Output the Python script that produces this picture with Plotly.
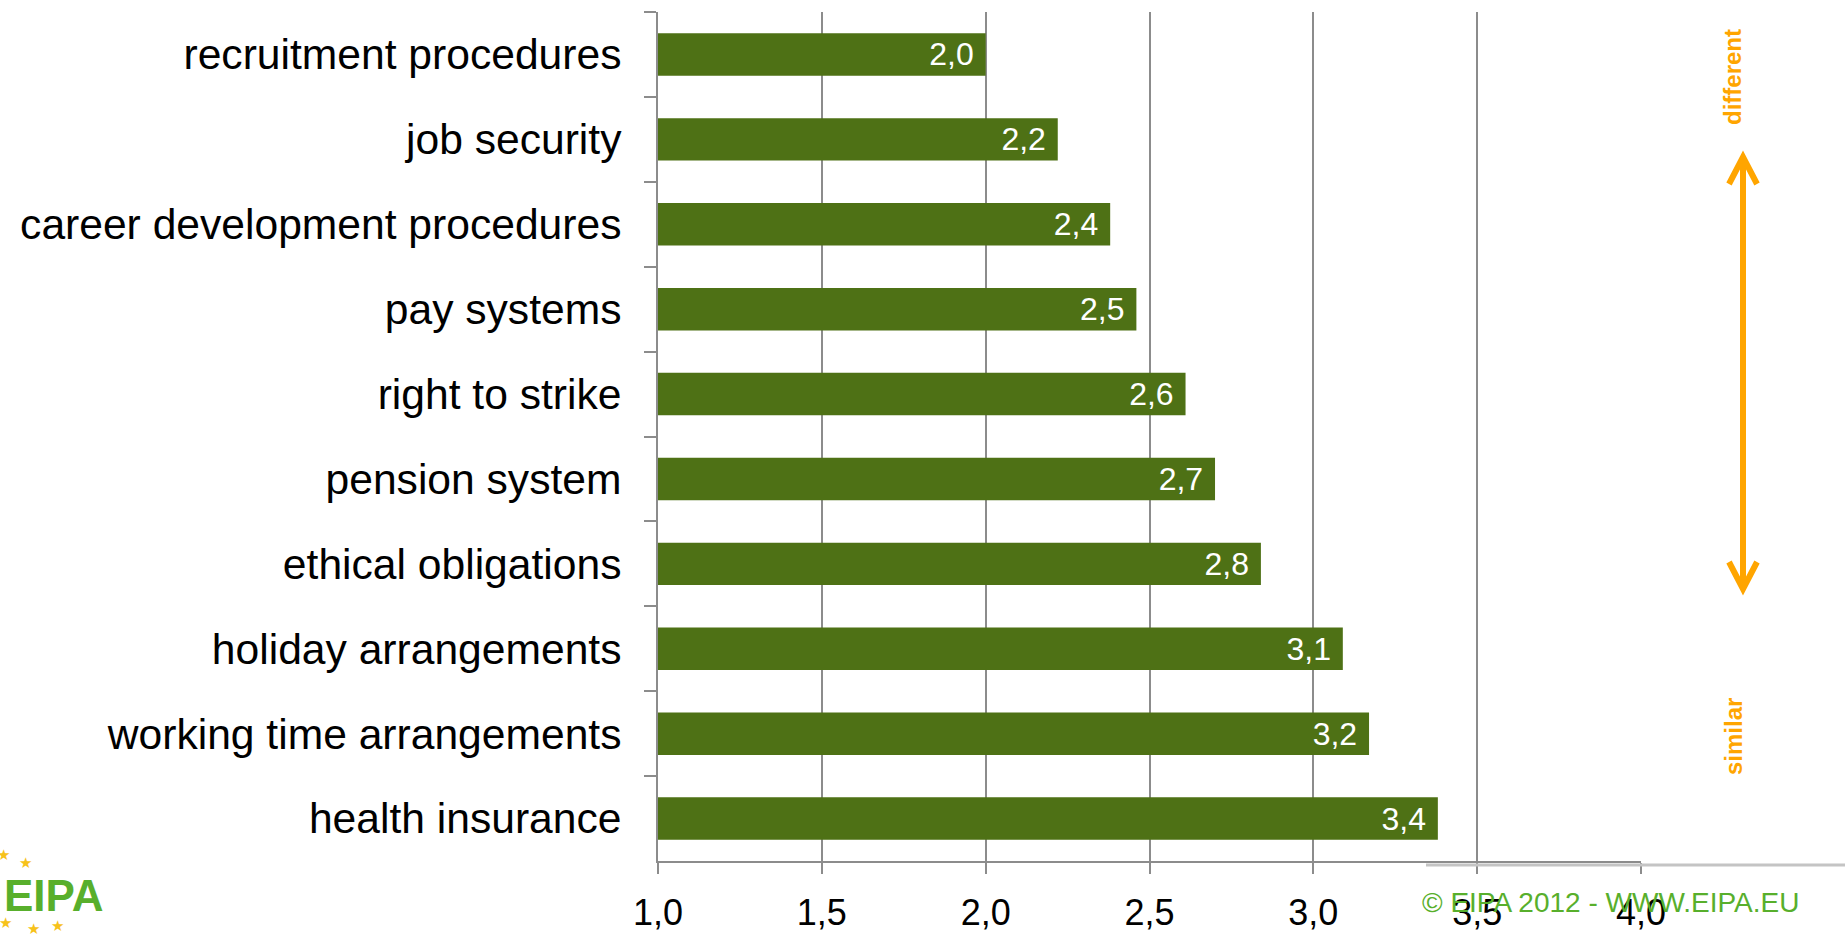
import plotly.graph_objects as go

categories = ["recruitment procedures", "job security", "career development procedures",
              "pay systems", "right to strike", "pension system", "ethical obligations",
              "holiday arrangements", "working time arrangements", "health insurance"]
values = [2.00, 2.22, 2.38, 2.46, 2.61, 2.70, 2.84, 3.09, 3.17, 3.38]
x_ticks = [1.0, 1.5, 2.0, 2.5, 3.0, 3.5, 4.0]
x_tick_labels = ["1,0", "1,5", "2,0", "2,5", "3,0", "3,5", "4,0"]
bar_labels = [f"{v:.1f}".replace(".", ",") + "\u00a0" for v in values]

W, H = 1845, 934
L, R, T, B = 658, 204, 12, 73
PX0, PX1 = L, W - R
PY0, PY1 = T, H - B

def px(x):
    return (x - PX0) / (PX1 - PX0)

def py(y):
    return (PY1 - y) / (PY1 - PY0)

BAR = "#4E7115"
GRID = "#8C8C8C"
ORANGE = "#FFA500"
GREEN = "#58AF2C"

fig = go.Figure()
fig.add_trace(go.Bar(
    y=categories, x=[v - 1.0 for v in values], base=1.0, orientation="h",
    marker=dict(color=BAR, line=dict(width=0)), width=0.5,
    text=bar_labels, textposition="inside", insidetextanchor="end",
    textfont=dict(family="Liberation Sans, Arial", size=32, color="white"),
    cliponaxis=False, hoverinfo="skip",
))

fig.update_layout(
    width=W, height=H,
    margin=dict(l=L, r=R, t=T, b=B, autoexpand=False),
    paper_bgcolor="white", plot_bgcolor="white",
    showlegend=False, bargap=0.5, uniformtext=dict(mode=False),
    font=dict(family="Liberation Sans, Arial", color="black"),
)
fig.update_xaxes(
    range=[1.0, 4.0], tickvals=x_ticks, ticktext=x_tick_labels,
    showgrid=True, gridcolor=GRID, gridwidth=1.5,
    showline=True, linecolor=GRID, linewidth=2,
    ticks="outside", ticklen=11, tickcolor=GRID, tickwidth=1.5,
    tickfont=dict(size=36, color="black"), ticklabelstandoff=8,
    zeroline=False, automargin=False, fixedrange=True,
)
fig.update_yaxes(
    categoryorder="array", categoryarray=categories, autorange="reversed",
    tickson="boundaries", showgrid=False,
    showline=True, linecolor=GRID, linewidth=2,
    ticks="outside", ticklen=12, tickcolor=GRID, tickwidth=1.5,
    tickfont=dict(size=42.6, color="black"), ticklabelstandoff=26,
    automargin=False, fixedrange=True,
)

shapes = []
# decorative light line bottom right
shapes.append(dict(type="line", xref="paper", yref="paper",
                   x0=px(1426), x1=px(1845), y0=py(865), y1=py(865),
                   line=dict(color="#C4C4C4", width=3)))
# orange double arrow
ax = 1743
top, bot = 157, 589
shapes.append(dict(type="line", xref="paper", yref="paper",
                   x0=px(ax), x1=px(ax), y0=py(top), y1=py(bot),
                   line=dict(color=ORANGE, width=6)))
for tip, d in ((top, 1), (bot, -1)):
    shapes.append(dict(type="path", xref="paper", yref="paper",
                       path=f"M {px(ax-14)},{py(tip + d*27)} L {px(ax)},{py(tip)} L {px(ax+14)},{py(tip + d*27)}",
                       line=dict(color=ORANGE, width=6)))
fig.update_layout(shapes=shapes)

ann = []
ann.append(dict(text="different", x=px(1733), y=py(77), xref="paper", yref="paper",
                showarrow=False, textangle=-90, xanchor="center", yanchor="middle",
                font=dict(family="Liberation Sans, Arial", size=24, color=ORANGE, weight="bold")))
ann.append(dict(text="similar", x=px(1733), y=py(737), xref="paper", yref="paper",
                showarrow=False, textangle=-90, xanchor="center", yanchor="middle",
                font=dict(family="Liberation Sans, Arial", size=24, color=ORANGE, weight="bold")))
ann.append(dict(text="© EIPA 2012 - WWW.EIPA.EU", x=px(1420), y=py(903), xref="paper", yref="paper",
                showarrow=False, xanchor="left", yanchor="middle",
                font=dict(family="Liberation Sans, Arial", size=28, color=GREEN)))
ann.append(dict(text="EIPA", x=px(2), y=py(895), xref="paper", yref="paper",
                showarrow=False, xanchor="left", yanchor="middle",
                font=dict(family="Liberation Sans, Arial", size=44, color=GREEN, weight="bold")))
for sx, sy in [(3, 855), (25, 863), (5, 923), (33, 929), (57, 926)]:
    ann.append(dict(text="★", x=px(sx), y=py(sy), xref="paper", yref="paper",
                    showarrow=False, xanchor="center", yanchor="middle",
                    font=dict(family="DejaVu Sans", size=15, color="#F7C21A")))
fig.update_layout(annotations=ann)

fig.write_html("out.html")
